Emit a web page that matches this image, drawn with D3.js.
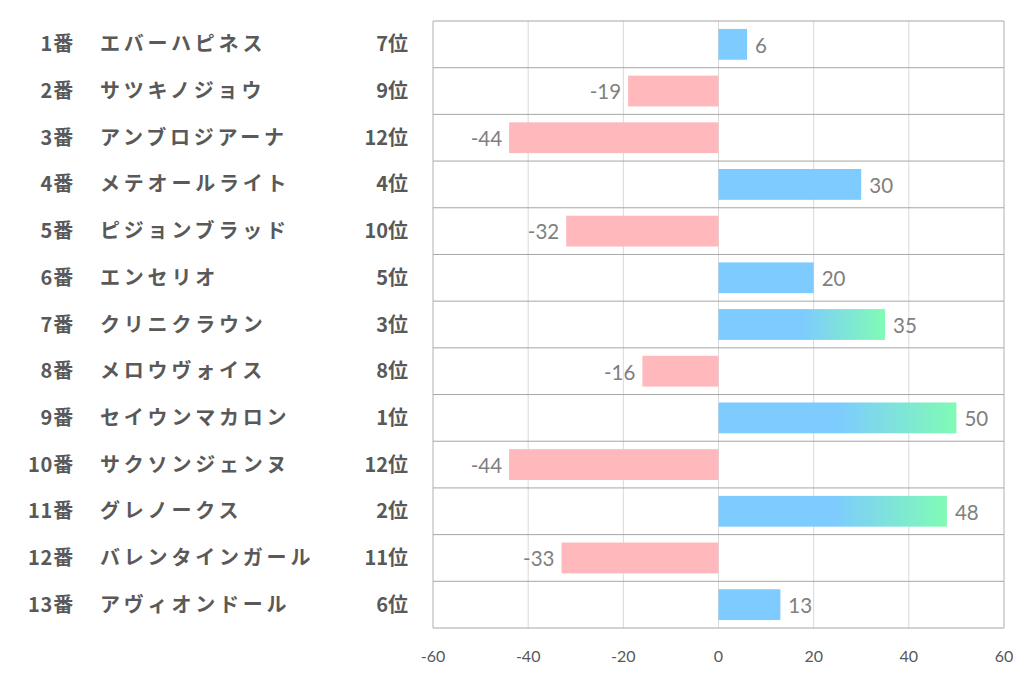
<!DOCTYPE html>
<html><head><meta charset="utf-8">
<script src="https://cdn.jsdelivr.net/npm/d3@7"></script>
<style>body{margin:0;background:#fff}</style>
</head><body>
<svg id="c" width="1022" height="678"></svg>
<script>
const numbers = ["1番","2番","3番","4番","5番","6番","7番","8番","9番","10番","11番","12番","13番"];
const names = ["エバーハピネス","サツキノジョウ","アンブロジアーナ","メテオールライト","ピジョンブラッド","エンセリオ","クリニクラウン","メロウヴォイス","セイウンマカロン","サクソンジェンヌ","グレノークス","バレンタインガール","アヴィオンドール"];
const ranks = ["7位","9位","12位","4位","10位","5位","3位","8位","1位","12位","2位","11位","6位"];
const values = [6,-19,-44,30,-32,20,35,-16,50,-44,48,-33,13];
const tickValues = [-60,-40,-20,0,20,40,60];

const svg = d3.select("#c");
const L = 433, R = 1004, T = 21, B = 628;
const x = d3.scaleLinear().domain([-60,60]).range([L,R]);
const y = d3.scaleBand().domain(d3.range(values.length)).range([T,B]).paddingInner(0.34).paddingOuter(0.17);
const rowH = (B-T)/values.length;

const defs = svg.append("defs");
const grad = defs.append("linearGradient").attr("id","g").attr("x1","0%").attr("x2","100%").attr("y1","0%").attr("y2","0%");
grad.append("stop").attr("offset","50%").attr("stop-color","#7dcbff");
grad.append("stop").attr("offset","100%").attr("stop-color","#80fbb5");

// vertical grid
svg.append("g").selectAll("line").data(tickValues).join("line")
  .attr("x1",d=>x(d)).attr("x2",d=>x(d)).attr("y1",T).attr("y2",B)
  .attr("stroke",d=>(d===-60||d===60)?"#b0b0b0":"#d9d9d9").attr("stroke-width",1);
// horizontal row lines
svg.append("g").selectAll("line").data(d3.range(values.length+1)).join("line")
  .attr("x1",L).attr("x2",R).attr("y1",i=>T+i*rowH).attr("y2",i=>T+i*rowH)
  .attr("stroke","#a6a6a6").attr("stroke-width",1);

// bars
const isTop3 = i => ["1位","2位","3位"].includes(ranks[i]);
svg.append("g").selectAll("rect").data(values).join("rect")
  .attr("x",d=>x(Math.min(0,d))).attr("width",d=>Math.abs(x(d)-x(0)))
  .attr("y",(d,i)=>y(i)).attr("height",y.bandwidth())
  .attr("fill",(d,i)=> d<0 ? "#ffb9bc" : (isTop3(i) ? "url(#g)" : "#7dcbff"));

// value labels
svg.append("g").selectAll("text").data(values).join("text")
  .attr("x",d=> d<0 ? x(d)-7 : x(d)+8)
  .attr("y",(d,i)=>y(i)+y.bandwidth()/2+1)
  .attr("dy","0.36em")
  .attr("text-anchor",d=>d<0?"end":"start")
  .attr("font-family","Lato, 'Open Sans', sans-serif").attr("font-size",20.5)
  .attr("fill","#7f7f7f").text(d=>d);

// axis tick labels
svg.append("g").selectAll("text").data(tickValues).join("text")
  .attr("x",d=>x(d)).attr("y",656).attr("dy","0.35em").attr("text-anchor","middle")
  .attr("font-family","Lato, 'Open Sans', sans-serif").attr("font-size",16)
  .attr("fill","#595959").text(d=>d);

// left labels
const lf = "'Noto Sans CJK JP', sans-serif";
const lg = svg.append("g").attr("font-family",lf).attr("font-weight","bold").attr("font-size",20).attr("fill","#595959");
lg.selectAll("text.n").data(numbers).join("text").attr("class","n")
  .attr("x",74).attr("y",(d,i)=>T+(i+0.5)*rowH).attr("dy","0.35em").attr("text-anchor","end")
  .attr("letter-spacing",0.8).text(d=>d);
lg.selectAll("text.m").data(names).join("text").attr("class","m")
  .attr("x",100).attr("y",(d,i)=>T+(i+0.5)*rowH).attr("dy","0.35em").attr("text-anchor","start")
  .attr("letter-spacing",3.8).text(d=>d);
lg.selectAll("text.r").data(ranks).join("text").attr("class","r")
  .attr("x",408).attr("y",(d,i)=>T+(i+0.5)*rowH).attr("dy","0.35em").attr("text-anchor","end").text(d=>d);
</script>
</body></html>
